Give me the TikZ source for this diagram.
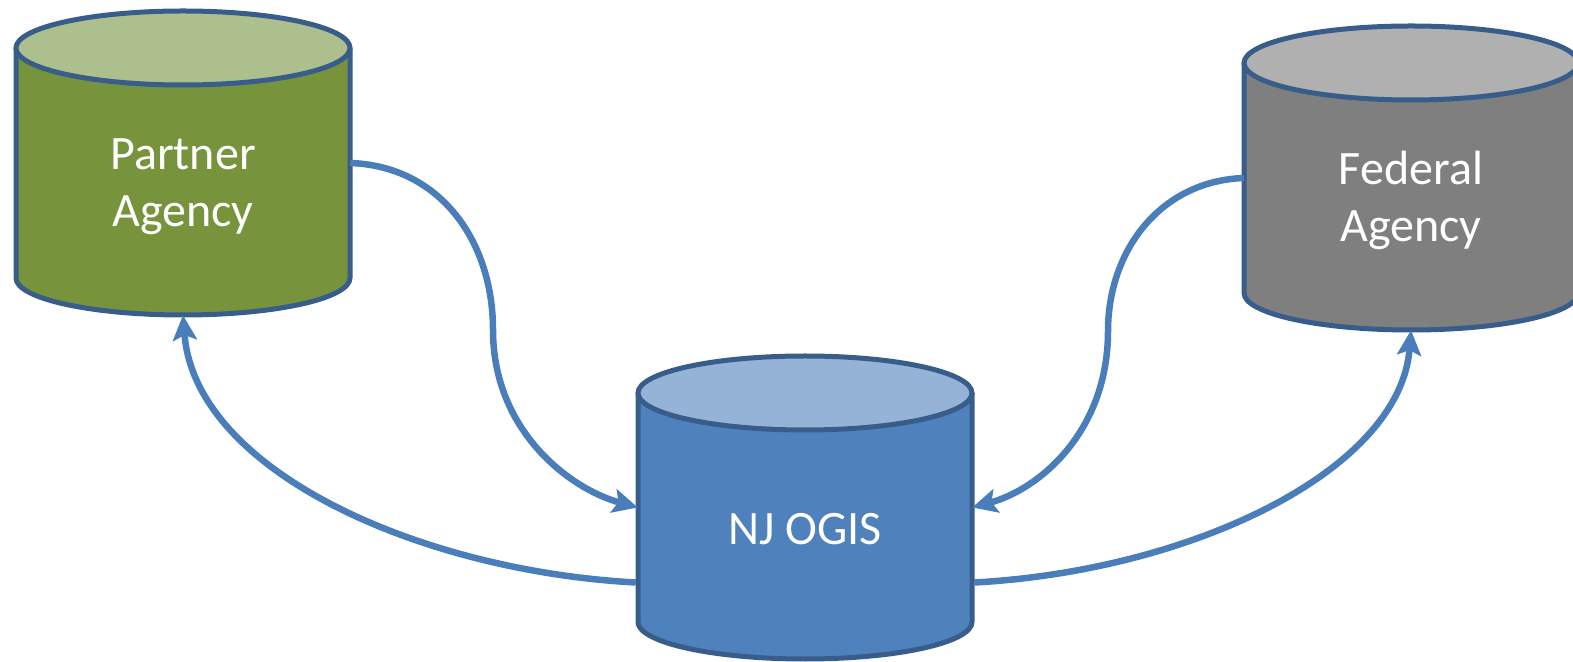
\documentclass[tikz,border=0pt]{standalone}
\usepackage{fontspec}
\setmainfont{Carlito}
\usepackage{tikz}
\usepackage{xcolor}
\usetikzlibrary{arrows.meta, positioning, calc}

\definecolor{canline}{HTML}{385D8A}
\definecolor{linkblue}{HTML}{4A7EBB}
\definecolor{partnerbody}{HTML}{77933C}
\definecolor{partnertop}{HTML}{ADBF8C}
\definecolor{fedbody}{HTML}{7F7F7F}
\definecolor{fedtop}{HTML}{B0B0B0}
\definecolor{ogisbody}{HTML}{4F81BD}
\definecolor{ogistop}{HTML}{95B3D7}

% database can: name, x, top y, bottom y, body colour, top colour
\newcommand{\dbcan}[6]{%
  \fill[#5] (#2-167,#3) -- (#2-167,#4) arc[start angle=180, end angle=360, x radius=167, y radius=37] -- (#2+167,#3) -- cycle;
  \draw[draw=canline, line width=5pt, line join=round] (#2-167,#3) -- (#2-167,#4) arc[start angle=180, end angle=360, x radius=167, y radius=37] -- (#2+167,#3);
  \filldraw[draw=canline, line width=5pt, fill=#6] (#2,#3) ellipse[x radius=167, y radius=37];
  \node[inner sep=0pt, minimum width=334pt, minimum height={#3-#4+74}] (#1) at (#2,{(#3+#4)/2}) {};
}

\begin{document}
\begin{tikzpicture}[x=1pt, y=1pt]
\useasboundingbox (0,0) rectangle (1573,661);
\tikzset{
  cantext/.style={text=white, align=center, font=\fontsize{48}{57}\selectfont},
  link/.style={draw=linkblue, line width=6.5pt, -{Stealth[length=25pt, width=24pt, inset=5pt]}}
}
% Cans
\dbcan{partner}{183}{613}{383}{partnerbody}{partnertop}
\dbcan{federal}{1411}{598}{368}{fedbody}{fedtop}
\dbcan{ogis}{805}{268}{39}{ogisbody}{ogistop}
\node[cantext] (partnerlbl) at ($(partner)+(0,-24)$) {Partner\\Agency};
\node[cantext] (federallbl) at ($(federal)+(0,-22)$) {Federal\\Agency};
\node[cantext] (ogislbl) at ($(ogis)+(0,-22)$) {NJ OGIS};

% Links
\draw[link] (partner.east) .. controls (440,495) and (493,420) .. (493,331)
  .. controls (493,230) and (570,172) .. (ogis.west);
\draw[link] (federal.west) .. controls (1160,480) and (1108,410) .. (1108,330)
  .. controls (1108,230) and (1040,172) .. (ogis.east);
\draw[link] ($(ogis.west)+(-2,-75)$) .. controls (420,90) and (195,190) .. (partner.south);
\draw[link] ($(ogis.east)+(2,-75)$) .. controls (1190,90) and (1400,190) .. (federal.south);
\end{tikzpicture}
\end{document}
